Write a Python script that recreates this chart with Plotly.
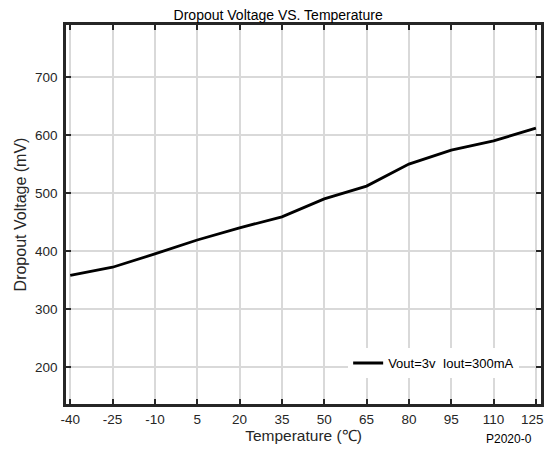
import plotly.graph_objects as go

temperature = [-40, -25, -10, 5, 20, 35, 50, 65, 80, 95, 110, 125]
dropout_mv = [358, 372, 395, 419, 440, 459, 490, 512, 550, 574, 590, 612]
x_ticks = [-40, -25, -10, 5, 20, 35, 50, 65, 80, 95, 110, 125]
x_tick_labels = ["-40", "-25", "-10", "5", "20", "35", "50", "65", "80", "95", "110", "125\u00a0\u00a0"]
y_ticks = [200, 300, 400, 500, 600, 700]

fig = go.Figure()
fig.add_trace(go.Scatter(
    x=temperature, y=dropout_mv, mode="lines",
    line=dict(color="black", width=2.8),
    name="Vout=3v  Iout=300mA",
))

font = "Liberation Sans, Arial, sans-serif"
axis_common = dict(
    showgrid=True, gridcolor="#d9d9d9", gridwidth=2,
    showline=True, linecolor="#262626", linewidth=2.5, mirror="allticks",
    ticks="inside", ticklen=5, tickwidth=2, tickcolor="#262626",
    zeroline=False, automargin=False, ticklabeloverflow="allow",
    tickfont=dict(family=font, size=13.5, color="#262626"),
)

fig.update_layout(
    width=536, height=436,
    margin=dict(l=58, r=3, t=17, b=40),
    paper_bgcolor="white", plot_bgcolor="white",
    title=dict(text="Dropout Voltage VS. Temperature", x=0.504, xanchor="center",
               xref="container", yref="container",
               y=1 - 7/436, yanchor="middle",
               font=dict(family=font, size=14, color="black")),
    xaxis=dict(range=[-41.5, 126.8], tickvals=x_ticks, ticktext=x_tick_labels,
               ticklabelstandoff=1,
               title=dict(text="Temperature (℃)", font=dict(family=font, size=15.5, color="#262626"), standoff=11),
               **axis_common),
    yaxis=dict(range=[136, 790], tickvals=y_ticks, ticklabelstandoff=3,
               title=dict(text="Dropout Voltage (mV)", font=dict(family=font, size=16, color="#262626"), standoff=5),
               **axis_common),
    showlegend=True,
    legend=dict(x=0.954, xanchor="right", y=0.108, yanchor="middle",
                bgcolor="white", borderwidth=0,
                font=dict(family=font, size=13, color="black")),
    annotations=[dict(text="P2020-0", xref="paper", yref="paper", x=0.88, y=-0.068,
                      xanchor="left", yanchor="top", showarrow=False,
                      font=dict(family=font, size=12, color="black"))],
)

fig.write_html("out.html")
